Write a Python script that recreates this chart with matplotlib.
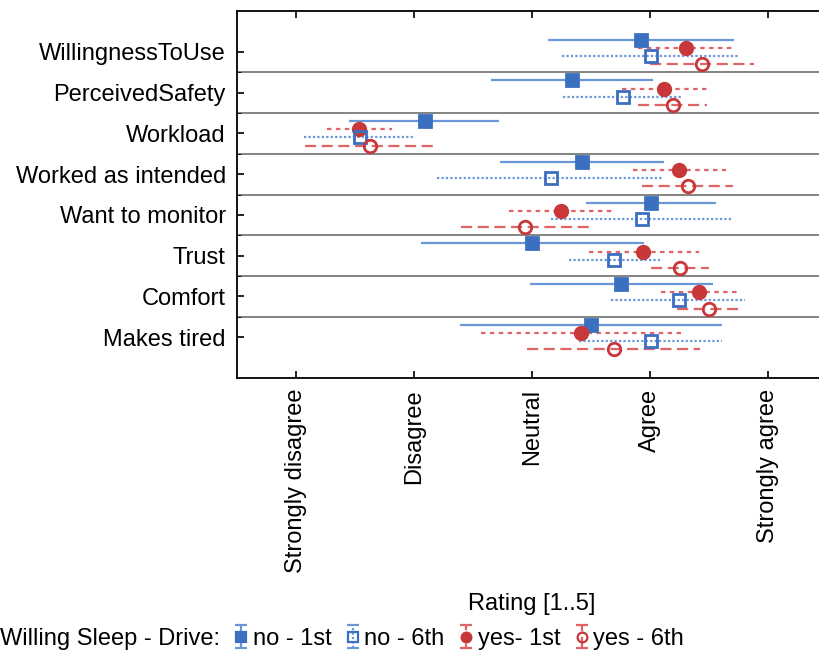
import matplotlib
matplotlib.use("Agg")
import matplotlib.pyplot as plt
import numpy as np

plt.rcParams['font.family'] = ['Liberation Sans', 'DejaVu Sans']

# item names, top to bottom
items = ["WillingnessToUse", "PerceivedSafety", "Workload", "Worked as intended",
         "Want to monitor", "Trust", "Comfort", "Makes tired"]
rating_ticks = [1, 2, 3, 4, 5]
rating_labels = ["Strongly disagree", "Disagree", "Neutral", "Agree", "Strongly agree"]

# means and interval ends per group (Willing Sleep - Drive)
no1_mean = [3.92, 3.34, 2.09, 3.42, 4.01, 3.00, 3.75, 3.50]
no1_lo = [3.13, 2.65, 1.45, 2.73, 3.46, 2.06, 2.98, 2.39]
no1_hi = [4.71, 4.02, 2.72, 4.12, 4.56, 3.95, 4.53, 4.61]

yes1_mean = [4.30, 4.12, 1.53, 4.24, 3.24, 3.94, 4.41, 3.41]
yes1_lo = [3.90, 3.76, 1.26, 3.85, 2.80, 3.48, 4.09, 2.57]
yes1_hi = [4.70, 4.48, 1.81, 4.64, 3.68, 4.41, 4.75, 4.26]

no6_mean = [4.01, 3.77, 1.54, 3.16, 3.93, 3.69, 4.24, 4.01]
no6_lo = [3.25, 3.26, 1.07, 2.19, 3.16, 3.31, 3.67, 3.40]
no6_hi = [4.75, 4.28, 2.01, 4.11, 4.69, 4.08, 4.80, 4.61]

yes6_mean = [4.44, 4.19, 1.63, 4.32, 2.94, 4.25, 4.50, 3.69]
yes6_lo = [4.00, 3.90, 1.08, 3.93, 2.40, 4.01, 4.23, 2.96]
yes6_hi = [4.88, 4.48, 2.18, 4.70, 3.48, 4.50, 4.78, 4.42]

group_labels = ["no - 1st", "no - 6th", "yes- 1st", "yes - 6th"]

blue = "#3b6fc0"
blue_l = "#6a97d8"
red = "#c8373a"
red_l = "#df6467"

fig = plt.figure(figsize=(8.2, 6.56), dpi=100)
ax = fig.add_axes([0.289, 0.424, 0.72, 0.559])

rows = np.arange(len(items))

groups = [
    # mean, lo, hi, offset, marker, color, ecolor, face, linestyle
    (no1_mean, no1_lo, no1_hi, -0.3, "s", blue, blue_l, blue, "-"),
    (yes1_mean, yes1_lo, yes1_hi, -0.1, "o", red, red_l, red, (0, (2, 2))),
    (no6_mean, no6_lo, no6_hi, 0.1, "s", blue, blue_l, "none", (0, (1, 1))),
    (yes6_mean, yes6_lo, yes6_hi, 0.3, "o", red, red_l, "none", (0, (5, 2.5))),
]

for mean, lo, hi, off, mk, col, ecol, face, ls in groups:
    m = np.array(mean)
    err = [m - np.array(lo), np.array(hi) - m]
    eb = ax.errorbar(m, rows + off, xerr=err, fmt=mk, color=col, ms=9,
                     mfc=face, mec=col, mew=2, ecolor=ecol, elinewidth=1.6,
                     capsize=0, zorder=3)
    eb[2][0].set_linestyle(ls)

# separators between items
for s in rows[:-1] + 0.5:
    ax.axhline(s, color="#7a7a7a", lw=1.3, zorder=1)

ax.set_xlim(0.5, 5.5)
ax.set_ylim(8.0, -1.0)
ax.set_yticks(rows)
ax.set_yticklabels(items, fontsize=17)
ax.set_yticks(rows[:-1] + 0.5, minor=True)
ax.set_xticks(rating_ticks)
ax.set_xticklabels(rating_labels, rotation=90, fontsize=17)
ax.set_xlabel("Rating [1..5]", fontsize=17, labelpad=14)
ax.tick_params(direction="in", top=True, length=5, width=1.2, pad=8)
ax.tick_params(which="minor", direction="in", length=3)
for sp in ax.spines.values():
    sp.set_linewidth(1.3)

# legend handles with vertical bars
handles = []
for mean, lo, hi, off, mk, col, ecol, face, ls in [groups[0], groups[2], groups[1], groups[3]]:
    h = ax.errorbar([np.nan], [np.nan], yerr=[1], fmt=mk, color=col, ms=7,
                    mfc=face, mec=col, mew=1.6, ecolor=ecol, elinewidth=1.6,
                    capsize=4, capthick=1.6)
    h[2][0].set_linestyle(ls)
    handles.append(h)

fig.text(0.0, 0.026, "Willing Sleep - Drive:", fontsize=17, va="center", ha="left")
fig.legend(handles, group_labels, loc="center left", bbox_to_anchor=(0.285, 0.026),
           ncol=4, frameon=False, fontsize=17, handlelength=0.6, handletextpad=0.2,
           columnspacing=0.6, borderpad=0, borderaxespad=0)

fig.savefig("out.png", dpi=100)
